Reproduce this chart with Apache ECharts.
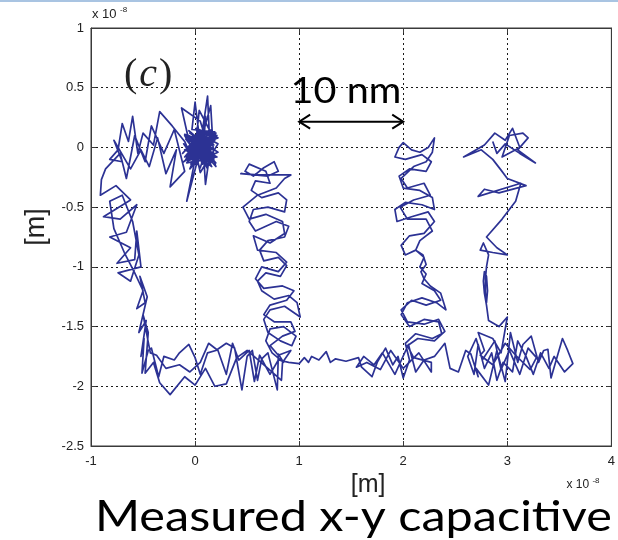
<!DOCTYPE html>
<html>
<head>
<meta charset="utf-8">
<script src="https://cdn.jsdelivr.net/npm/echarts@6/dist/echarts.min.js"></script>
<style>
  html, body { margin: 0; padding: 0; background: #ffffff; }
  #chart { width: 618px; height: 540px; }
</style>
</head>
<body>
<div id="chart"></div>
<script>
// Stage position trace, both coordinates in units of 1e-8 m.
const xTicks = [-1, 0, 1, 2, 3, 4];
const yTicks = [-2.5, -2, -1.5, -1, -0.5, 0, 0.5, 1];

// dense settling cluster around the origin
const originCluster = [
  [0.02,0.00],[0.14,0.09],[-0.06,-0.11],[0.16,-0.04],[-0.09,0.07],[0.11,-0.15],[0.01,0.11],[0.18,0.02],
  [-0.07,-0.03],[0.08,0.13],[0.13,-0.12],[-0.11,0.03],[0.05,-0.17],[0.15,0.11],[-0.02,0.04],[0.21,-0.08],
  [-0.08,-0.13],[0.06,0.08],[0.12,0.43],[0.14,0.05],[-0.04,-0.14],[0.17,-0.01],[-0.10,0.10],[0.03,-0.09],
  [0.19,0.13],[-0.03,0.15],[0.00,0.38],[0.05,0.02],[0.16,-0.16],[-0.08,-0.02],[0.10,0.04],[-0.05,0.12],
  [0.22,-0.04],[0.02,-0.12],[-0.08,-0.45],[0.00,-0.10],[0.12,0.00],[-0.10,-0.08],[0.07,0.10],[0.10,-0.31],
  [0.14,-0.06],[-0.04,0.08],[0.19,0.06],[0.04,0.31],[0.00,-0.02],[0.16,0.15],[-0.07,0.00],[0.08,-0.10],
  [0.20,0.12],[-0.02,-0.16],[0.06,0.06],[-0.10,0.11],[0.17,-0.12],[0.05,0.22],[-0.13,0.33],[-0.05,0.02],
  [0.11,-0.09],[0.00,0.06],[-0.12,-0.05],[0.09,0.16],[0.15,0.35],[0.18,-0.10],[-0.04,-0.06],[0.13,0.12],
  [-0.01,-0.08],[0.09,0.03],[-0.06,0.14],[0.20,-0.13],[0.03,0.05],[-0.09,-0.10],[0.15,0.07],[0.07,-0.14],
  [-0.03,0.09],[0.12,-0.03],[0.02,0.14],[0.18,0.09],[-0.07,0.05],[0.06,-0.06],[0.10,0.26],[0.08,-0.02],
  [-0.02,0.01],[0.14,-0.10],[0.04,0.10],[-0.08,-0.07],[0.11,0.08],[0.22,0.03],[0.05,-0.21],[-0.01,0.03],
  [0.13,0.02],[0.03,-0.04],[0.21,0.10],[-0.11,-0.12],[0.17,0.04],[-0.05,-0.18],[0.09,0.11],[0.20,-0.16],
  [-0.06,0.10],[0.12,-0.18],[0.01,0.16],[0.22,0.08],[-0.10,-0.02],[0.15,-0.13],[0.05,0.12],[-0.02,-0.11]
];

// excursion to the left and down the first leg
const leftLeg = [
  [-0.10,0.05],[-0.22,0.18],[-0.34,0.30],[-0.40,0.02],[-0.50,0.12],[-0.55,-0.05],[-0.60,0.26],[-0.64,0.05],
  [-0.70,0.20],[-0.74,-0.02],[-0.82,-0.10],[-0.70,-0.12],[-0.78,0.06],[-0.62,-0.18],[-0.52,-0.02],[-0.44,-0.16],
  [-0.36,0.08],[-0.28,-0.22],[-0.18,-0.02],[-0.24,-0.33],[-0.10,-0.20],[-0.20,0.15],[-0.30,-0.05],[-0.42,0.18],
  [-0.48,-0.12],[-0.58,0.10],[-0.66,-0.26],[-0.72,-0.05],[-0.86,-0.18],[-0.90,-0.27],[-0.91,-0.40],[-0.76,-0.32],
  [-0.62,-0.44],[-0.88,-0.58],[-0.72,-0.60],[-0.56,-0.48],[-0.66,-0.71],[-0.82,-0.75],[-0.62,-0.84],[-0.75,-0.97],
  [-0.58,-0.94],[-0.56,-0.70],[-0.52,-1.00],[-0.74,-1.05],[-0.62,-1.12],[-0.54,-0.90],[-0.60,-0.62],[-0.70,-0.40],
  [-0.82,-0.45],[-0.78,-0.68],[-0.68,-0.88],[-0.58,-1.05],[-0.50,-1.20],[-0.56,-1.35],[-0.48,-1.30],[-0.53,-1.08],
  [-0.46,-1.25],[-0.54,-1.55],[-0.47,-1.45],[-0.52,-1.75],[-0.49,-1.60],[-0.51,-1.89]
];

// first run along the bottom
const bottomFirst = [
  [-0.45,-1.70],[-0.42,-1.68],[-0.35,-1.92],[-0.30,-1.75],[-0.20,-1.78],[-0.15,-1.72],[-0.06,-1.65],[0.00,-1.76],
  [0.05,-1.90],[0.12,-1.72],[0.20,-1.70],[0.30,-1.64],[0.38,-1.68],[0.45,-2.03],[0.50,-1.75],[0.55,-1.70],
  [0.60,-1.95],[0.64,-1.77],[0.70,-1.72],[0.79,-2.03],[0.80,-1.73],[0.85,-1.80]
];

// second leg, up and back down
const secondLegUp = [
  [0.74,-1.72],[0.68,-1.62],[0.72,-1.52],[0.85,-1.50],[0.97,-1.58],[0.93,-1.66],[0.82,-1.62],[0.70,-1.55],
  [0.66,-1.44],[0.72,-1.36],[0.86,-1.33],[1.01,-1.42],[0.98,-1.30],[0.90,-1.24],[0.76,-1.27],[0.64,-1.20],
  [0.60,-1.12],[0.68,-1.05],[0.82,-1.08],[0.88,-0.99],[0.80,-0.92],[0.66,-0.95],[0.62,-0.86],[0.70,-0.78],
  [0.86,-0.75],[0.90,-0.66],[0.78,-0.62],[0.58,-0.70],[0.52,-0.62],[0.56,-0.52],[0.70,-0.50],[0.86,-0.54],
  [0.88,-0.44],[0.80,-0.38],[0.64,-0.42],[0.54,-0.36],[0.58,-0.28],[0.72,-0.30],[0.68,-0.20],[0.52,-0.14],
  [0.48,-0.20],[0.56,-0.24],[0.66,-0.17],[0.76,-0.12],[0.80,-0.20],[0.70,-0.24],[0.44,-0.22],[0.60,-0.23],
  [0.92,-0.23],[0.86,-0.26]
];
const secondLegDown = [
  [0.78,-0.34],[0.60,-0.40],[0.46,-0.50],[0.52,-0.60],[0.68,-0.56],[0.84,-0.62],[0.86,-0.72],[0.72,-0.80],
  [0.56,-0.74],[0.60,-0.86],[0.78,-0.88],[0.88,-0.96],[0.80,-1.04],[0.64,-1.00],[0.58,-1.10],[0.66,-1.18],
  [0.84,-1.16],[0.95,-1.20],[0.88,-1.28],[0.72,-1.32],[0.66,-1.40],[0.76,-1.46],[0.92,-1.46],[0.96,-1.54],
  [0.84,-1.58],[0.72,-1.66],[0.80,-1.74],[0.92,-1.70],[0.84,-1.80],[0.83,-1.95]
];

// return along the bottom and out again
const bottomReturn = [
  [0.70,-1.85],[0.50,-1.70],[0.40,-1.76],[0.30,-1.98],[0.19,-2.00],[0.10,-1.85],[0.00,-1.99],[-0.10,-1.92],
  [-0.24,-2.07],[-0.34,-1.97],[-0.40,-1.80],[-0.48,-1.89],[-0.45,-1.55],[-0.50,-1.40],[-0.43,-1.72],
  [-0.37,-1.74],[-0.28,-1.85],[-0.15,-1.82],[-0.05,-1.88],[0.05,-1.80],[0.13,-1.64],[0.22,-1.70],[0.30,-1.90],
  [0.36,-1.64],[0.42,-1.78],[0.52,-1.70],[0.57,-1.96],[0.62,-1.74],[0.72,-1.90],[0.80,-1.78],[0.90,-1.80]
];

const bottomMiddle = [
  [1.00,-1.81],[1.05,-1.76],[1.09,-1.80],[1.12,-1.75],[1.19,-1.78],[1.26,-1.71],[1.30,-1.80],[1.35,-1.77],
  [1.45,-1.79],[1.57,-1.76],[1.60,-1.84],[1.70,-1.92],[1.75,-1.80],[1.83,-1.68],[1.90,-1.82],[1.95,-1.75],
  [2.00,-1.93]
];

// third leg
const thirdLegUp = [
  [2.06,-1.78],[2.02,-1.64],[2.12,-1.56],[2.28,-1.60],[2.37,-1.56],[2.34,-1.46],[2.20,-1.44],[2.06,-1.50],
  [1.98,-1.40],[2.04,-1.30],[2.18,-1.26],[2.32,-1.30],[2.41,-1.36],[2.36,-1.22],[2.26,-1.16],[2.20,-1.10],
  [2.17,-1.04],[2.22,-0.98],[2.19,-0.90],[2.12,-0.86],[2.02,-0.90],[1.98,-0.82],[2.06,-0.74],[2.20,-0.72],
  [2.30,-0.62],[2.24,-0.54],[2.08,-0.58],[1.94,-0.62],[1.92,-0.52],[2.02,-0.46],[2.18,-0.48],[2.30,-0.52],
  [2.28,-0.42],[2.16,-0.36],[2.00,-0.34],[1.96,-0.24],[2.06,-0.18],[2.22,-0.20],[2.27,-0.12],[2.18,-0.06],
  [2.02,-0.10],[1.92,-0.08],[1.96,0.00],[2.00,0.04],[2.08,-0.02],[2.16,-0.04],[2.24,0.00],[2.30,0.08],
  [2.28,-0.04],[2.22,-0.12]
];
const thirdLegDown = [
  [2.10,-0.16],[1.98,-0.26],[2.04,-0.34],[2.20,-0.30],[2.26,-0.40],[2.10,-0.44],[1.97,-0.50],[2.04,-0.60],
  [2.22,-0.60],[2.28,-0.70],[2.16,-0.78],[2.12,-0.86],[2.20,-0.92],[2.16,-1.00],[2.22,-1.06],[2.18,-1.14],
  [2.30,-1.20],[2.36,-1.28],[2.22,-1.32],[2.08,-1.28],[1.98,-1.36],[2.04,-1.46],[2.20,-1.48],[2.34,-1.44],
  [2.40,-1.54],[2.30,-1.62],[2.14,-1.60],[2.04,-1.66],[2.10,-1.76],[2.27,-1.80],[2.27,-1.88]
];

const bottomThird = [
  [2.15,-1.72],[2.00,-1.85],[1.88,-1.70],[1.78,-1.86],[1.65,-1.80],[1.55,-1.84],[1.62,-1.75],[1.72,-1.82],
  [1.80,-1.72],[1.92,-1.90],[2.05,-1.65],[2.12,-1.88],[2.20,-1.78],[2.30,-1.75],[2.40,-1.64],[2.45,-1.85],
  [2.53,-1.88],[2.60,-1.70],[2.65,-1.73],[2.72,-1.92]
];

const bottomRight = [
  [2.70,-1.85],[2.82,-1.99],[2.90,-1.70],[2.98,-1.96],[3.03,-1.55],[3.10,-1.80],[3.15,-1.65],[3.23,-1.58],
  [3.30,-1.80],[3.35,-1.70],[3.39,-1.69],[3.42,-1.93],[3.47,-1.78],[3.53,-1.60],[3.58,-1.70],[3.63,-1.81],
  [3.55,-1.88],[3.45,-1.75],[3.40,-1.85],[3.32,-1.72],[3.25,-1.90],[3.18,-1.75],[3.10,-1.62],[3.05,-1.88],
  [2.96,-1.80],[2.90,-1.95],[2.85,-1.72],[2.78,-1.85],[2.72,-1.65],[2.68,-1.90],[2.62,-1.75],[2.70,-1.60],
  [2.76,-1.78],[2.88,-1.62],[2.94,-1.86],[3.02,-1.70],[3.12,-1.90],[3.20,-1.68],[3.28,-1.76],[3.22,-1.86],
  [3.08,-1.74],[2.98,-1.64],[2.86,-1.82],[2.74,-1.74]
];

// fourth leg, ending near the top
const fourthLeg = [
  [2.78,-1.70],[2.72,-1.55],[2.86,-1.60],[2.94,-1.72],[3.00,-1.42],[2.92,-1.50],[2.82,-1.45],[2.80,-1.32],
  [2.78,-1.22],[2.77,-1.12],[2.78,-1.04],[2.80,-1.08],[2.81,-1.20],[2.80,-1.30],[2.79,-1.22],[2.79,-1.10],
  [2.80,-1.00],[2.82,-0.90],[2.77,-0.80],[2.74,-0.86],[2.86,-0.88],[3.00,-0.90],[2.90,-0.84],[2.80,-0.75],
  [2.95,-0.60],[3.08,-0.45],[3.13,-0.30],[2.72,-0.41],[2.78,-0.35],[2.92,-0.38],[3.18,-0.32],[3.00,-0.26],
  [2.94,-0.19],[2.86,-0.10],[2.75,-0.02],[2.58,-0.08],[2.78,0.02],[2.88,0.12],[2.98,0.06],[3.05,0.16],
  [3.12,0.00],[2.95,-0.08],[3.02,0.10],[3.15,0.12],[3.20,0.08],[3.10,-0.02],[3.27,-0.13],[3.12,-0.05],
  [2.98,0.03],[2.90,-0.05],[2.86,0.05]
];

const trace = [].concat(
  originCluster, leftLeg, bottomFirst, secondLegUp, secondLegDown, bottomReturn,
  bottomMiddle, thirdLegUp, thirdLegDown, bottomThird, bottomRight, fourthLeg
);

const axisColor = '#3a3a3a';
const tickFont = 'Liberation Sans, Arial, sans-serif';
const gridLine = { show: true, lineStyle: { color: '#1a1a1a', type: [2, 3], width: 1 } };

const chart = echarts.init(document.getElementById('chart'), null, { renderer: 'canvas' });
chart.setOption({
  animation: false,
  backgroundColor: '#ffffff',
  grid: { left: 91, right: 4, top: 28, bottom: 94, show: true, borderColor: axisColor, borderWidth: 1, backgroundColor: 'transparent' },
  xAxis: [{
    type: 'value', min: xTicks[0], max: xTicks[xTicks.length - 1], interval: 1,
    axisLine: { show: true, onZero: false, lineStyle: { color: axisColor } },
    axisTick: { show: true, inside: true, length: 5, lineStyle: { color: axisColor } },
    splitLine: gridLine,
    axisLabel: { color: '#222', fontSize: 13, fontFamily: tickFont, margin: 9 },
    name: '[m]', nameLocation: 'middle', nameGap: 26,
    nameTextStyle: { color: '#222', fontSize: 25, fontFamily: tickFont, padding: [0, 0, 0, 34], verticalAlign: 'top' }
  }, {
    type: 'value', position: 'top', min: xTicks[0], max: xTicks[xTicks.length - 1], interval: 1,
    axisLine: { show: true, onZero: false, lineStyle: { color: axisColor } },
    axisTick: { show: true, inside: true, length: 5, lineStyle: { color: axisColor } },
    axisLabel: { show: false }, splitLine: { show: false }
  }],
  yAxis: [{
    type: 'value', min: yTicks[0], max: yTicks[yTicks.length - 1], interval: 0.5,
    axisLine: { show: true, onZero: false, lineStyle: { color: axisColor } },
    axisTick: { show: true, inside: true, length: 5, lineStyle: { color: axisColor } },
    splitLine: gridLine,
    axisLabel: { color: '#222', fontSize: 13, fontFamily: tickFont, margin: 7 },
    name: '[m]', nameLocation: 'middle', nameGap: 41, nameRotate: 90,
    nameTextStyle: { color: '#222', fontSize: 27, fontFamily: tickFont, padding: [0, 0, 0, 20] }
  }, {
    type: 'value', position: 'right', min: yTicks[0], max: yTicks[yTicks.length - 1], interval: 0.5,
    axisLine: { show: true, onZero: false, lineStyle: { color: axisColor } },
    axisTick: { show: true, inside: true, length: 5, lineStyle: { color: axisColor } },
    axisLabel: { show: false }, splitLine: { show: false }
  }],
  series: [{
    type: 'line',
    data: trace,
    showSymbol: false,
    symbol: 'none',
    clip: true,
    lineStyle: { color: '#2c3294', width: 1.7, join: 'round' },
    z: 3
  }]
});

// annotations placed through the axis scales
const px = (x, y) => chart.convertToPixel({ gridIndex: 0 }, [x, y]);
const arrowL = px(1, 0.216);
const arrowR = px(2, 0.216);
const head = 11, spread = 7;
const labelFont = 'Lato, "Open Sans", sans-serif';
const nmPos = px(1.45, 0.47);
const cPos = px(-0.45, 0.6);
const grid = chart.getModel().getComponent('grid').coordinateSystem.getRect();

chart.setOption({
  graphic: [
    { type: 'rect', shape: { x: 0, y: 0, width: 618, height: 2 }, style: { fill: '#a9c4e2' }, silent: true },
    { type: 'text', style: { x: grid.x + 1, y: grid.y - 7, text: 'x 10', font: '13px ' + tickFont, fill: '#222', verticalAlign: 'bottom' } },
    { type: 'text', style: { x: grid.x + 29, y: grid.y - 14, text: '-8', font: '8px ' + tickFont, fill: '#222', verticalAlign: 'bottom' } },
    { type: 'text', style: { x: grid.x + grid.width - 45, y: grid.y + grid.height + 45, text: 'x 10', font: '12px ' + tickFont, fill: '#222', verticalAlign: 'bottom' } },
    { type: 'text', style: { x: grid.x + grid.width - 19, y: grid.y + grid.height + 39, text: '-8', font: '8px ' + tickFont, fill: '#222', verticalAlign: 'bottom' } },
    {
      type: 'text', z: 10,
      style: {
        x: cPos[0], y: cPos[1], align: 'center', verticalAlign: 'middle',
        text: '{p|(}{c|c}{p|)}',
        rich: {
          p: { font: '40px "Liberation Serif", "DejaVu Serif", serif', fill: '#222', padding: [0, 2, 0, 2] },
          c: { font: 'italic 40px "Liberation Serif", "DejaVu Serif", serif', fill: '#222' }
        }
      }
    },
    { type: 'text', z: 10, x: nmPos[0], y: nmPos[1], scaleX: 1.1, style: { x: 0, y: 0, text: '10 nm', font: '36px ' + labelFont, fill: '#000', align: 'center', verticalAlign: 'middle' } },
    { type: 'line', z: 10, shape: { x1: arrowL[0], y1: arrowL[1], x2: arrowR[0], y2: arrowR[1] }, style: { stroke: '#000', lineWidth: 2 } },
    { type: 'polyline', z: 10, shape: { points: [[arrowL[0] + head, arrowL[1] - spread], [arrowL[0], arrowL[1]], [arrowL[0] + head, arrowL[1] + spread]] }, style: { stroke: '#000', lineWidth: 2, fill: null } },
    { type: 'polyline', z: 10, shape: { points: [[arrowR[0] - head, arrowR[1] - spread], [arrowR[0], arrowR[1]], [arrowR[0] - head, arrowR[1] + spread]] }, style: { stroke: '#000', lineWidth: 2, fill: null } },
    { type: 'text', z: 10, x: 95, y: 517, scaleX: 1.13, style: { x: 0, y: 0, text: 'Measured x-y capacitive', font: '43px ' + labelFont, fill: '#000', verticalAlign: 'middle' } }
  ]
});
</script>
</body>
</html>
